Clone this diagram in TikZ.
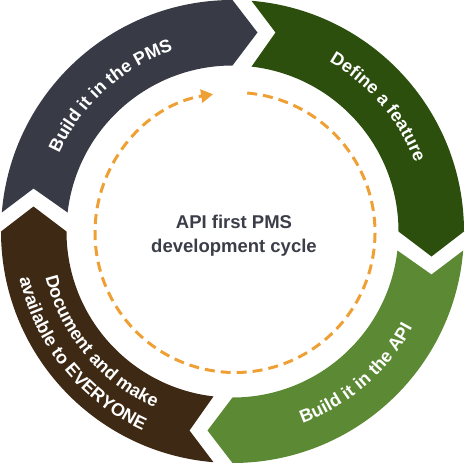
\documentclass[tikz,border=0pt]{standalone}
\usepackage{fontspec}
\setmainfont{Liberation Sans}
\usetikzlibrary{calc,decorations.text,arrows.meta}
\definecolor{cgrey}{HTML}{383B46}
\definecolor{cdkgreen}{HTML}{2C4F0E}
\definecolor{cltgreen}{HTML}{5C8934}
\definecolor{cbrown}{HTML}{3D2914}
\definecolor{corange}{HTML}{EFA035}
\definecolor{ctext}{HTML}{3B3E48}
\newcommand\ringfont{\fontsize{18pt}{20pt}\selectfont\bfseries\color{white}}
\tikzset{
  ringtext/.style={decorate, decoration={text along path, text align=center, text={|\ringfont|#1}}},
  cyclearrow/.style={draw=corange, line width=3pt, dash pattern=on 10pt off 6pt, -{Triangle[length=12pt,width=13pt,fill=corange]}},
  title/.style={text=ctext, font=\fontsize{18.5pt}{22pt}\selectfont\bfseries, anchor=base, inner sep=0pt}
}
\begin{document}
\begin{tikzpicture}
\useasboundingbox (-232.5pt,-231.5pt) rectangle (232.5pt,231.5pt);
\def\Ro{231.5pt}
\def\Ri{166pt}
\def\Rm{199pt}
\pgfmathsetmacro\ao{asin(19/231.5)}
\pgfmathsetmacro\ai{asin(19/166)}
% ring segments: tail angle / colour
\foreach \a/\c in {180/cgrey, 90/cdkgreen, 0/cltgreen, 270/cbrown}{
  \pgfmathsetmacro\b{\a-90}
  \fill[\c] (\b:\Ri) -- ($(\b:\Rm)+(\b-90:25pt)$) -- (\b:\Ro)
    arc[start angle=\b, end angle=\a-\ao, radius=\Ro]
    -- ($(\a:\Rm)+(\a-90:43pt)$)
    -- (\a-\ai:\Ri) arc[start angle=\a-\ai, end angle=\b, radius=\Ri] -- cycle;
}
% curved labels
\path[ringtext={Build it in the PMS}] (177:190pt) arc[start angle=177, end angle=87, radius=190pt];
\path[ringtext={Define a feature}] (85:195pt) arc[start angle=85, end angle=-4, radius=195pt];
\path[ringtext={Build it in the API}] (-94:204pt) arc[start angle=-94, end angle=-4, radius=204pt];
\path[ringtext={Document and make}] (175:192.5pt) arc[start angle=175, end angle=265, radius=192.5pt];
\path[ringtext={available to EVERYONE}] (174:218pt) arc[start angle=174, end angle=264, radius=218pt];
% dashed cycle arrow
\coordinate (dc) at (2.5pt,-1pt);
\draw[cyclearrow] ($(dc)+(85:140pt)$) arc[start angle=85, end angle=-261, radius=140pt];
% centre title
\node[title] (t1) at (1.5pt,3.5pt) {API first PMS};
\node[title] (t2) at (1.5pt,-20.5pt) {development cycle};
\end{tikzpicture}
\end{document}
